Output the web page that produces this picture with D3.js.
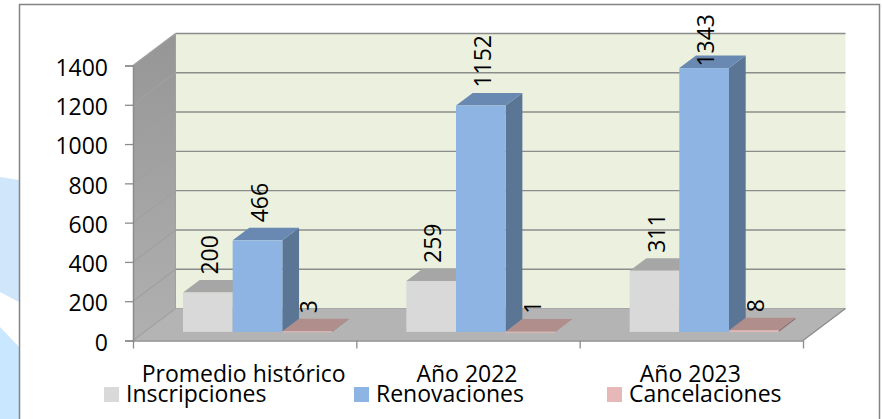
<!DOCTYPE html>
<html><head><meta charset="utf-8">
<script src="https://cdn.jsdelivr.net/npm/d3@7/dist/d3.min.js"></script>
<style>html,body{margin:0;padding:0;background:#fff;overflow:hidden}svg{display:block}text{font-family:"Open Sans",sans-serif;fill:#000}</style>
</head><body><svg id="c" width="883" height="419"></svg>
<script>
const categories = ["Promedio histórico", "Año 2022", "Año 2023"];
const seriesNames = ["Inscripciones", "Renovaciones", "Cancelaciones"];
const inscripciones = [200, 259, 311];
const renovaciones = [466, 1152, 1343];
const cancelaciones = [3, 1, 8];
const seriesValues = [inscripciones, renovaciones, cancelaciones];
const yTicks = [0, 200, 400, 600, 800, 1000, 1200, 1400];
const faceColors = [
  {front:"#D9D9D9", top:"#A6A6A6", side:"#A3A3A3"},
  {front:"#8DB4E2", top:"#6A89B2", side:"#5B7595"},
  {front:"#E6B8B7", top:"#B08E8B", side:"#8C6F6E"}
];
const legendX = [104, 354, 607];
const FS = 23;

const svg = d3.select("#c");
const defs = svg.append("defs");
const g1 = defs.append("linearGradient").attr("id","wall").attr("x1",0).attr("y1",0).attr("x2",0).attr("y2",1);
g1.append("stop").attr("offset","0").attr("stop-color","#969696");
g1.append("stop").attr("offset","1").attr("stop-color","#B0B0B0");

const line = d3.line();
svg.append("path").attr("d",line([[0,177],[19,180],[19,302],[0,292]])+"Z").attr("fill","#CFE6FB");
svg.append("path").attr("d",line([[0,327],[19,347],[19,419],[0,419]])+"Z").attr("fill","#C9E7FF");
svg.append("rect").attr("x",19.5).attr("y",4.5).attr("width",860).attr("height",420)
  .attr("fill","#fff").attr("stroke","#848484").attr("stroke-width",1.5);

const x0 = d3.scaleBand().domain(categories).range([133,803]);
const y = d3.scaleLinear().domain([0,1400]).range([340.5,65.5]);
const depth = {dx:42.5, dy:-32};
const [xL,xR] = x0.range();
const bd = {dx:16.7, dy:-12.6, oy:-8.6};
const inner = d3.scaleBand().domain(d3.range(3)).range([50,199]);

const poly = (pts,fill,stroke) => svg.append("path").attr("d",line(pts)+"Z").attr("fill",fill).attr("stroke",stroke||"none");
poly([[xL+depth.dx,y(1400)+depth.dy],[xR+depth.dx,y(1400)+depth.dy],[xR+depth.dx,y(0)+depth.dy],[xL+depth.dx,y(0)+depth.dy]],"#EBF1DE");
poly([[xL,y(1400)],[xL+depth.dx,y(1400)+depth.dy],[xL+depth.dx,y(0)+depth.dy],[xL,y(0)]],"url(#wall)");
poly([[xL,y(0)],[xR,y(0)],[xR+depth.dx,y(0)+depth.dy],[xL+depth.dx,y(0)+depth.dy]],"#B4B4B4");

yTicks.forEach(v=>{
  if(v>0) svg.append("line").attr("x1",xL+depth.dx).attr("x2",xR+depth.dx).attr("y1",y(v)+depth.dy).attr("y2",y(v)+depth.dy)
    .attr("stroke","#8C8C8C").attr("stroke-width",1.4);
  svg.append("line").attr("x1",xL).attr("x2",xL+depth.dx).attr("y1",y(v)).attr("y2",y(v)+depth.dy)
    .attr("stroke","#A0A0A0").attr("stroke-width",1.2);
});
svg.append("line").attr("x1",xL+depth.dx).attr("x2",xR+depth.dx).attr("y1",y(0)+depth.dy).attr("y2",y(0)+depth.dy).attr("stroke","#A8A8A8");
svg.append("line").attr("x1",xL+depth.dx).attr("x2",xL+depth.dx).attr("y1",y(1400)+depth.dy).attr("y2",y(0)+depth.dy).attr("stroke","#A0A0A0");
svg.append("line").attr("x1",xR).attr("x2",xR+depth.dx).attr("y1",y(0)).attr("y2",y(0)+depth.dy).attr("stroke","#8C8C8C").attr("stroke-width",1.3);

const yAxis = d3.axisLeft(y).tickValues(yTicks).tickFormat(d3.format("d")).tickSize(8).tickPadding(17);
const ya = svg.append("g").attr("transform",`translate(${xL},0)`).call(yAxis);
const xTickVals = [xL, xL+x0.bandwidth(), xL+2*x0.bandwidth(), xR];
const xAxis = d3.axisBottom(d3.scaleLinear().domain([xL,xR]).range([xL,xR])).tickValues(xTickVals).tickSize(8).tickSizeOuter(0).tickFormat("");
const xa = svg.append("g").attr("transform",`translate(0,${y(0)})`).call(xAxis);
[ya,xa].forEach(a=>{
  a.selectAll("path").attr("stroke","#8C8C8C").attr("stroke-width",1.5);
  a.selectAll("line").attr("stroke","#8C8C8C").attr("stroke-width",1.3);
});
ya.selectAll("text").attr("font-size",FS).attr("dy","0.42em").attr("font-family",'"Open Sans",sans-serif').attr("fill","#000");

const baseY = v => y(v)+bd.oy;
categories.forEach((c,ci)=>{
  seriesValues.forEach((vals,si)=>{
    const v = vals[ci], l = x0(c)+inner(si), w = inner.bandwidth(), r = l+w, t = baseY(v), b = baseY(0), col = faceColors[si];
    poly([[r,b],[r+bd.dx,b+bd.dy],[r+bd.dx,t+bd.dy],[r,t]],col.side);
    poly([[l,t],[r,t],[r+bd.dx,t+bd.dy],[l+bd.dx,t+bd.dy]],col.top);
    svg.append("rect").attr("x",l).attr("y",t).attr("width",w).attr("height",Math.max(b-t,1)).attr("fill",col.front);
  });
});
categories.forEach((c,ci)=>{
  seriesValues.forEach((vals,si)=>{
    const v = vals[ci], cx = x0(c)+inner(si)+inner.bandwidth()/2;
    const t = svg.append("text").attr("font-size",FS).attr("text-anchor","start").attr("dominant-baseline","central").text(v);
    const len = t.node().getComputedTextLength();
    const by = Math.max(baseY(v)-18, 14+len);
    t.attr("transform",`translate(${cx+1},${by}) rotate(-90)`);
  });
});
categories.forEach(c=>{
  svg.append("text").attr("x",x0(c)+x0.bandwidth()/2-1).attr("y",382).attr("text-anchor","middle").attr("font-size",FS).text(c);
});
seriesNames.forEach((n,i)=>{
  svg.append("rect").attr("x",legendX[i]).attr("y",387).attr("width",15).attr("height",15).attr("fill",faceColors[i].front);
  svg.append("text").attr("x",legendX[i]+22).attr("y",402).attr("font-size",FS).text(n);
});
</script></body></html>
